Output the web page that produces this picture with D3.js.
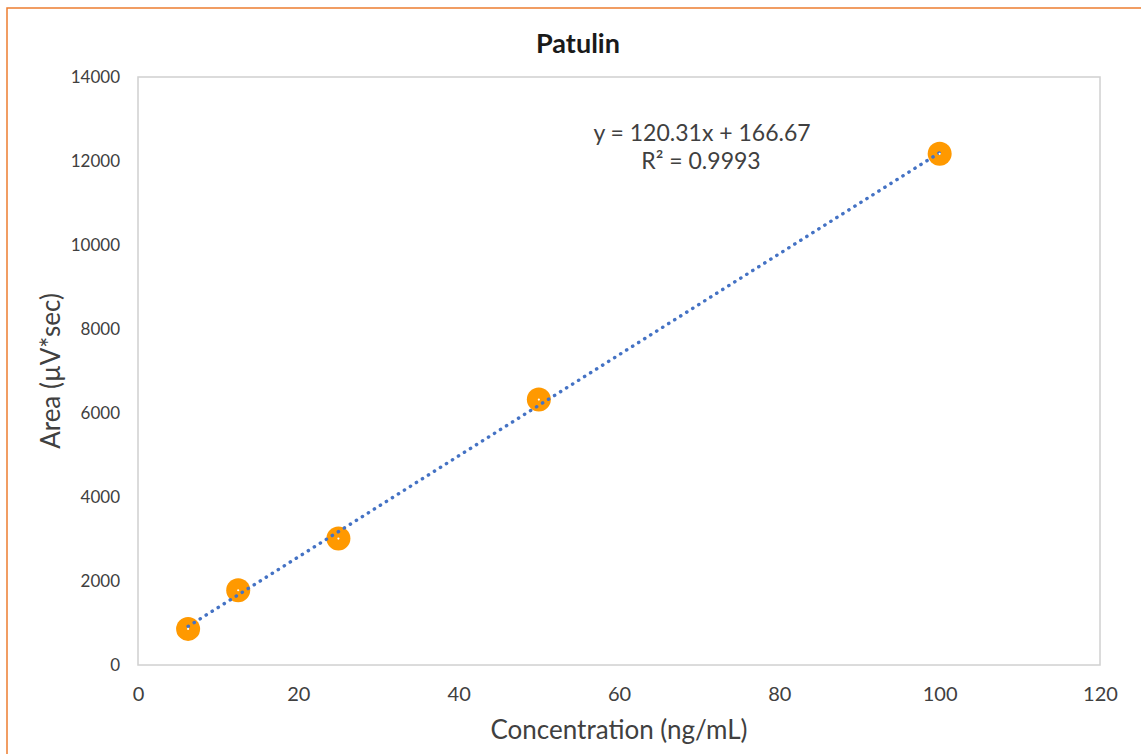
<!DOCTYPE html>
<html>
<head>
<meta charset="utf-8">
<script src="https://cdn.jsdelivr.net/npm/d3@7"></script>
<style>
  html, body { margin: 0; padding: 0; background: #fff; }
  svg { display: block; font-family: Lato, "Open Sans", sans-serif; }
</style>
</head>
<body>
<svg id="chart" width="1141" height="754"></svg>
<script>
// Calibration data for patulin
const concentrations = [6.25, 12.5, 25, 50, 100];
const areas = [860, 1780, 3010, 6320, 12170];
const xTicks = [0, 20, 40, 60, 80, 100, 120];
const yTicks = [0, 2000, 4000, 6000, 8000, 10000, 12000, 14000];
const slope = 120.31;
const intercept = 166.67;
const equationText = "y = 120.31x + 166.67";
const r2Text = "R² = 0.9993";

const svg = d3.select("#chart");
const W = 1141, H = 754;
const plot = { left: 138, top: 77, right: 1100, bottom: 665 };

// outer chart border
svg.append("rect")
  .attr("x", 7).attr("y", 8)
  .attr("width", W + 20).attr("height", H + 20)
  .attr("fill", "none").attr("stroke", "#ED7D31").attr("stroke-width", 1.5);

const x = d3.scaleLinear().domain([0, 120]).range([plot.left, plot.right]);
const y = d3.scaleLinear().domain([0, 14000]).range([plot.bottom, plot.top]);

// plot area frame
svg.append("rect")
  .attr("x", plot.left).attr("y", plot.top)
  .attr("width", plot.right - plot.left).attr("height", plot.bottom - plot.top)
  .attr("fill", "none").attr("stroke", "#D0D0D0").attr("stroke-width", 1.5);

// axes (labels only; frame drawn above)
const xAxis = svg.append("g")
  .attr("transform", `translate(0,${plot.bottom})`)
  .call(d3.axisBottom(x).tickValues(xTicks).tickSize(0).tickPadding(22));
xAxis.select(".domain").remove();
xAxis.selectAll("text")
  .attr("font-size", 20).attr("fill", "#404040").attr("font-family", "Lato, sans-serif");

const yAxis = svg.append("g")
  .attr("transform", `translate(${plot.left},0)`)
  .call(d3.axisLeft(y).tickValues(yTicks).tickSize(0).tickPadding(18).tickFormat(d3.format("d")));
yAxis.select(".domain").remove();
yAxis.selectAll("text")
  .attr("font-size", 17).attr("fill", "#404040").attr("font-family", "Lato, sans-serif");

// title
svg.append("text")
  .attr("x", 578).attr("y", 53)
  .attr("text-anchor", "middle")
  .attr("font-size", 27).attr("font-weight", "bold").attr("fill", "#1a1a1a")
  .text("Patulin");

// axis titles
svg.append("text")
  .attr("x", 619).attr("y", 739)
  .attr("text-anchor", "middle")
  .attr("font-size", 26).attr("fill", "#404040")
  .text("Concentration (ng/mL)");

svg.append("text")
  .attr("transform", `translate(60,371) rotate(-90)`)
  .attr("text-anchor", "middle")
  .attr("font-size", 26).attr("fill", "#404040")
  .text("Area (µV*sec)");

// data markers
svg.append("g").selectAll("circle")
  .data(concentrations.map((c, i) => [c, areas[i]]))
  .join("circle")
  .attr("cx", d => x(d[0])).attr("cy", d => y(d[1]))
  .attr("r", 12).attr("fill", "#FF9900");

// linear trendline (dotted)
const xMin = d3.min(concentrations), xMax = d3.max(concentrations);
svg.append("line")
  .attr("x1", x(xMin)).attr("y1", y(slope * xMin + intercept))
  .attr("x2", x(xMax)).attr("y2", y(slope * xMax + intercept))
  .attr("stroke", "#4472C4").attr("stroke-width", 3.4)
  .attr("stroke-linecap", "round").attr("stroke-dasharray", "0.3 6.8");

// small highlight at marker centres
svg.append("g").selectAll("circle")
  .data(concentrations.map((c, i) => [c, areas[i]]))
  .join("circle")
  .attr("cx", d => x(d[0])).attr("cy", d => y(d[1]))
  .attr("r", 1.1).attr("fill", "#ffffff");

// regression equation
svg.append("text")
  .attr("x", 702).attr("y", 141)
  .attr("text-anchor", "middle")
  .attr("font-size", 23).attr("fill", "#404040")
  .text(equationText);
svg.append("text")
  .attr("x", 701).attr("y", 169)
  .attr("text-anchor", "middle")
  .attr("font-size", 23).attr("fill", "#404040")
  .text(r2Text);
</script>
</body>
</html>
